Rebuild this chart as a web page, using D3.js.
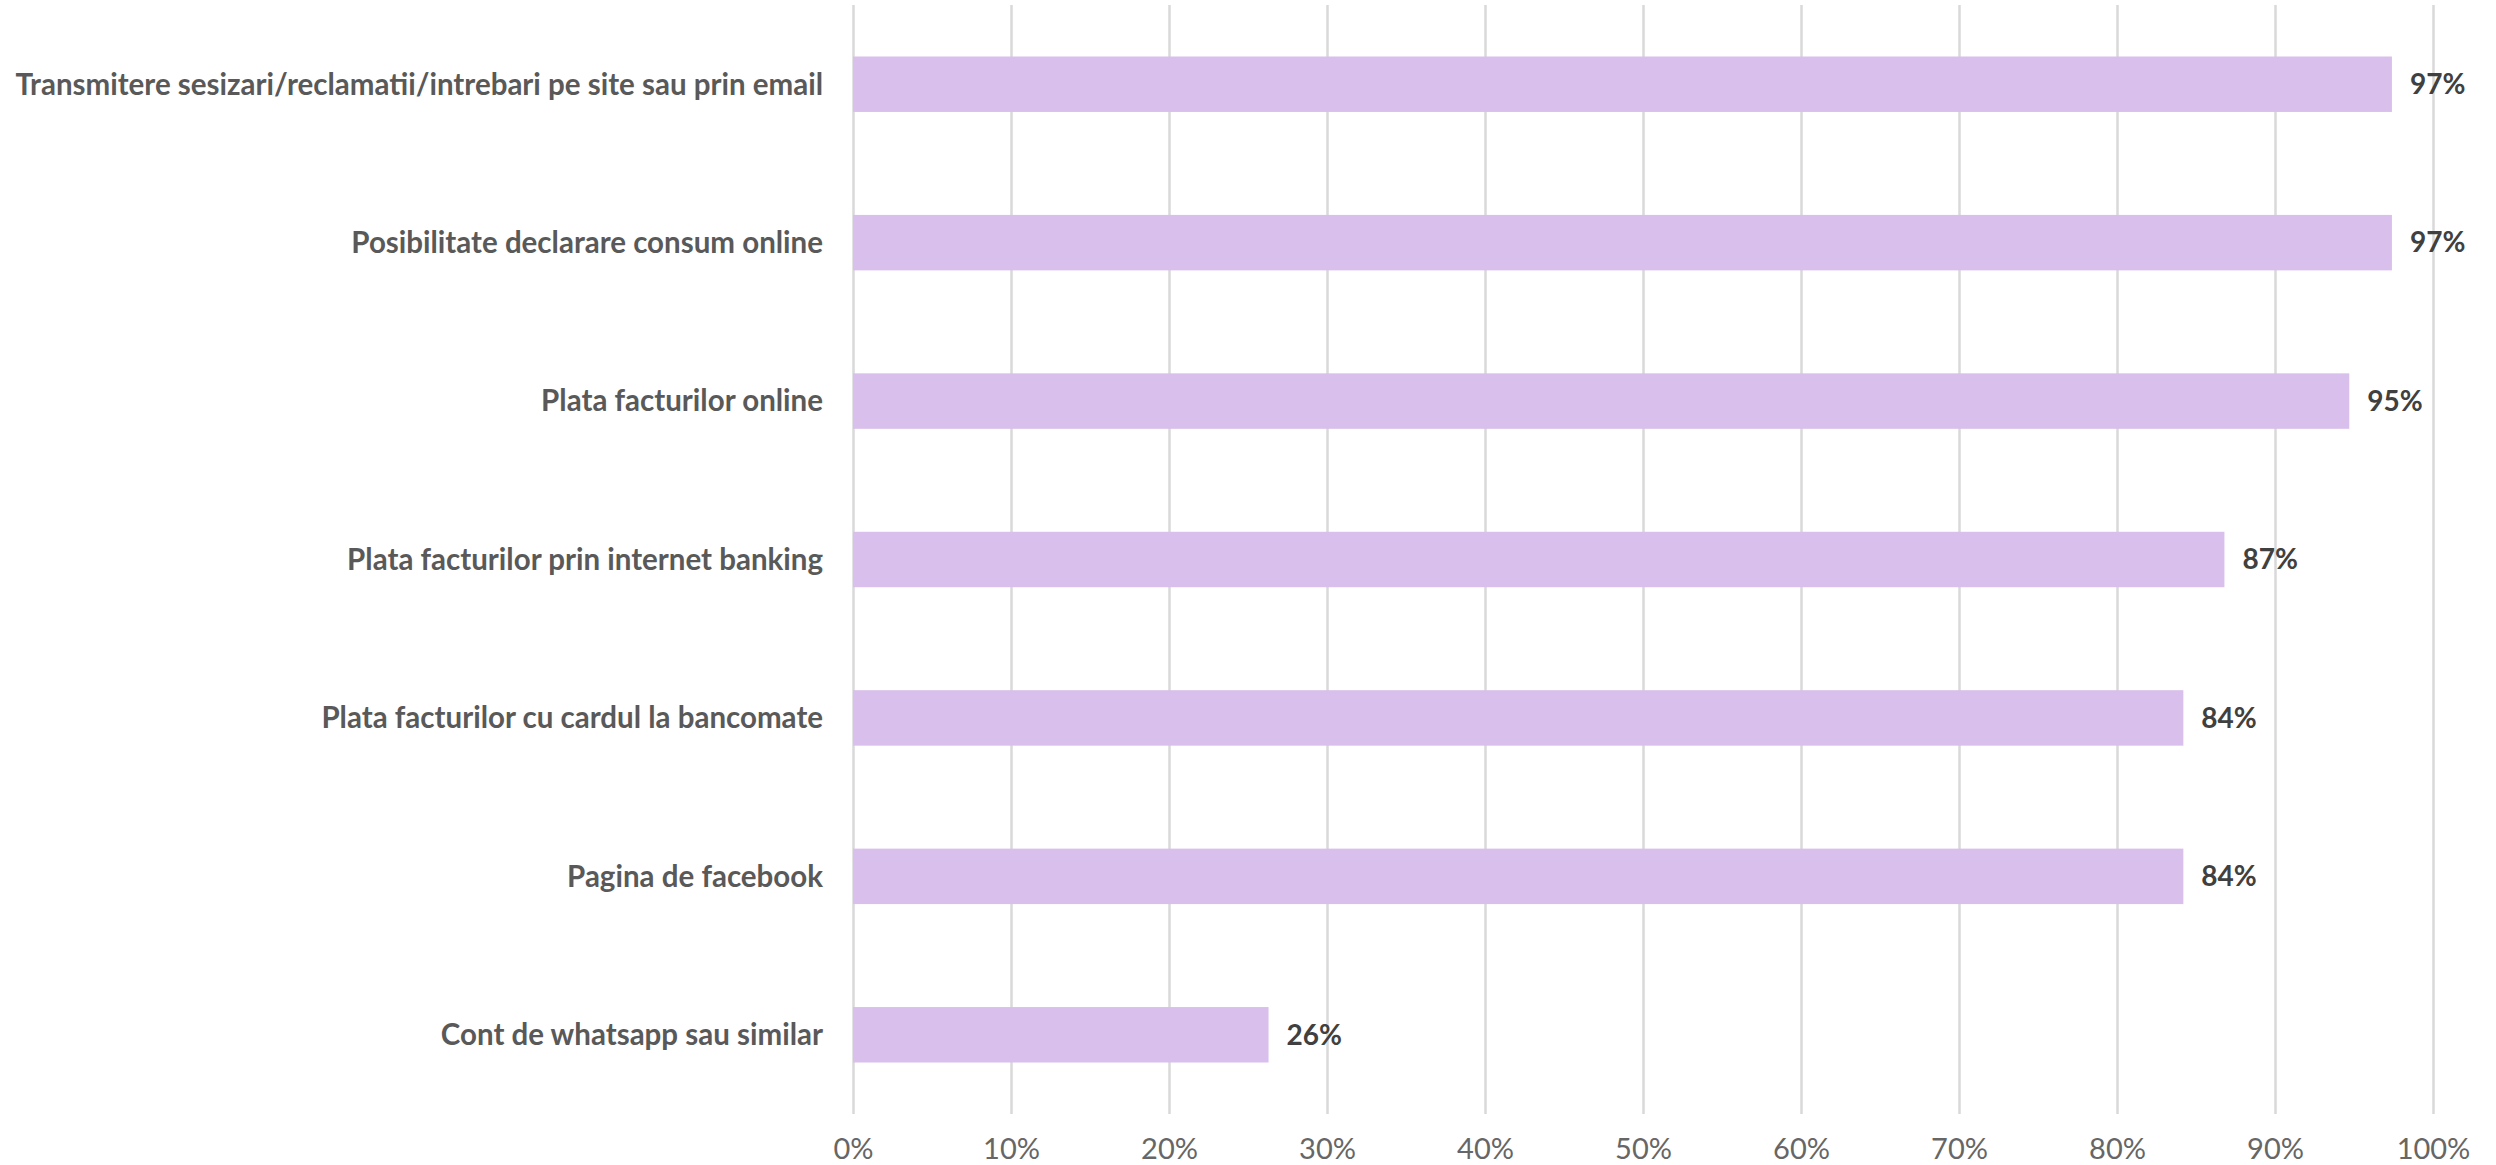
<!DOCTYPE html>
<html>
<head>
<meta charset="utf-8">
<title>Servicii online</title>
<script src="https://cdn.jsdelivr.net/npm/d3@7"></script>
<style>
  body { margin: 0; background: #fff; }
  .cat { font-family: Lato, "Open Sans", sans-serif; font-weight: bold; font-size: 29.5px; fill: #595959; }
  .tick text { font-family: Lato, "Open Sans", sans-serif; font-size: 29px; fill: #666666; }
  .val { font-family: Lato, "Open Sans", sans-serif; font-weight: bold; font-size: 28px; fill: #404040; }
</style>
</head>
<body>
<div id="chart"></div>
<script>
// data
var categories = [
  "Transmitere sesizari/reclamatii/intrebari pe site sau prin email",
  "Posibilitate declarare consum online",
  "Plata facturilor online",
  "Plata facturilor prin internet banking",
  "Plata facturilor cu cardul la bancomate",
  "Pagina de facebook",
  "Cont de whatsapp sau similar"
];
var values = [0.974, 0.974, 0.947, 0.868, 0.842, 0.842, 0.263];
var tickValues = [0, 0.1, 0.2, 0.3, 0.4, 0.5, 0.6, 0.7, 0.8, 0.9, 1.0];

var W = 2496, H = 1165,
    margin = { top: 5, right: 63, bottom: 51, left: 853 },
    width = W - margin.left - margin.right,
    height = H - margin.top - margin.bottom;

var svg = d3.select("#chart").append("svg")
    .attr("width", W)
    .attr("height", H)
  .append("g")
    .attr("transform", "translate(" + margin.left + "," + margin.top + ")");

var x = d3.scaleLinear().domain([0, 1]).range([0, width]);
var y = d3.scaleBand().domain(categories).range([0, height]).paddingInner(0.65).paddingOuter(0.325);

// gridlines + tick labels
var xAxis = svg.append("g")
    .attr("transform", "translate(0," + height + ")")
    .call(d3.axisBottom(x).tickValues(tickValues).tickFormat(d3.format(".0%")).tickSize(-height).tickPadding(24));
xAxis.select(".domain").remove();
xAxis.selectAll(".tick line").attr("stroke", "#d9d9d9").attr("stroke-width", 2.5);
xAxis.selectAll(".tick text").attr("dy", "0.71em");

// bars
svg.selectAll(".bar")
    .data(values)
  .enter().append("rect")
    .attr("class", "bar")
    .attr("x", x(0))
    .attr("y", function(d, i) { return y(categories[i]); })
    .attr("width", function(d) { return x(d); })
    .attr("height", y.bandwidth())
    .attr("fill", "#d9bfec");

// category labels
svg.selectAll(".cat")
    .data(categories)
  .enter().append("text")
    .attr("class", "cat")
    .attr("x", -30)
    .attr("y", function(d) { return y(d) + y.bandwidth() / 2; })
    .attr("dy", "0.35em")
    .style("text-anchor", "end")
    .text(function(d) { return d; });

// value labels
svg.selectAll(".val")
    .data(values)
  .enter().append("text")
    .attr("class", "val")
    .attr("x", function(d) { return x(d) + 18; })
    .attr("y", function(d, i) { return y(categories[i]) + y.bandwidth() / 2; })
    .attr("dy", "0.35em")
    .text(function(d) { return d3.format(".0%")(d); });
</script>
</body>
</html>
